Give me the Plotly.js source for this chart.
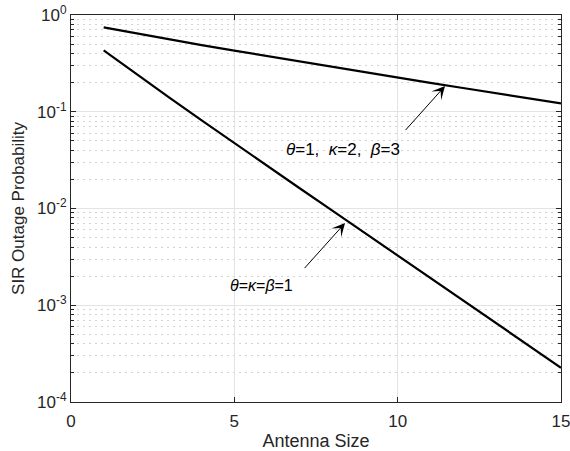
<!DOCTYPE html>
<html>
<head>
<meta charset="utf-8">
<script src="https://cdn.plot.ly/plotly-3.0.1.min.js"></script>
<style>html,body{margin:0;padding:0;background:#fff;}#chart{width:570px;height:451px;}</style>
</head>
<body>
<div id="chart"></div>
<script>
// Data
const antennaSize = [1,2,3,4,5,6,7,8,9,10,11,12,13,14,15];
const outageCase2 = [0.746,0.645,0.560,0.489,0.428,0.376,0.330,0.290,0.256,0.225,0.199,0.176,0.156,0.138,0.122]; // θ=1, κ=2, β=3
const outageCase1 = [0.431,0.245,0.1406,0.0813,0.0472,0.0277,0.0162,0.00951,0.00557,0.00327,0.00191,0.00112,0.000658,0.000386,0.000226]; // θ=κ=β=1
const yTickVals = [1e-4,1e-3,1e-2,1e-1,1];
const yTickText = ['10<sup>-4</sup>','10<sup>-3</sup>','10<sup>-2</sup>','10<sup>-1</sup>','10<sup>0</sup>'];
const xTickVals = [0,5,10,15];
const labelCase2 = '<i>θ</i>=1,&nbsp; <i>κ</i>=2,&nbsp; <i>β</i>=3';
const labelCase1 = '<i>θ</i>=<i>κ</i>=<i>β</i>=1';

// minor tick positions for log axis (2..9 per decade)
const minorVals = [];
for (let d = -4; d < 0; d++) for (let m = 2; m <= 9; m++) minorVals.push(m * Math.pow(10, d));

const axColor = '#262626';
const fam = 'Liberation Sans, Arial, sans-serif';

const traces = [
  {x: antennaSize, y: outageCase2, mode: 'lines', line: {color: '#000', width: 2.2}, showlegend: false},
  {x: antennaSize, y: outageCase1, mode: 'lines', line: {color: '#000', width: 2.2}, showlegend: false}
];

const layout = {
  width: 570, height: 451,
  margin: {l: 71, r: 9, t: 15, b: 49},
  paper_bgcolor: '#fff', plot_bgcolor: '#fff',
  font: {family: fam, size: 16, color: axColor},
  showlegend: false,
  xaxis: {
    range: [0, 15], tickmode: 'array', tickvals: xTickVals,
    ticks: 'inside', ticklen: 5, tickcolor: axColor, tickwidth: 1,
    showline: true, linecolor: axColor, linewidth: 1, mirror: 'allticks',
    showgrid: true, gridcolor: '#e3e3e3', gridwidth: 1, zeroline: false,
    tickfont: {family: fam, size: 17, color: axColor}, ticklabelstandoff: 4,
    ticklabeloverflow: 'allow',
    title: {text: 'Antenna Size', font: {family: fam, size: 18, color: axColor}, standoff: 6}
  },
  yaxis: {
    type: 'log', range: [-4, 0], tickmode: 'array', tickvals: yTickVals, ticktext: yTickText,
    ticks: 'inside', ticklen: 5, tickcolor: axColor, tickwidth: 1,
    showline: true, linecolor: axColor, linewidth: 1, mirror: 'allticks',
    showgrid: true, gridcolor: '#e3e3e3', gridwidth: 1, zeroline: false,
    tickfont: {family: fam, size: 17, color: axColor}, ticklabeloverflow: 'allow',
    minor: {tickmode: 'array', tickvals: minorVals, ticks: 'inside', ticklen: 3, tickcolor: axColor,
            showgrid: true, gridcolor: '#d2d2d2', griddash: '1.5px,4.5px', gridwidth: 1},
    title: {text: 'SIR Outage Probability', font: {family: fam, size: 17, color: axColor}, standoff: 8}
  },
  annotations: [
    {x: 11.45, y: -0.734, xref: 'x', yref: 'y', text: ' ', showarrow: true,
     ax: -43, ay: 48, arrowhead: 3, arrowsize: 2.2, arrowwidth: 1, arrowcolor: '#000'},
    {x: 8.39, y: -2.15, xref: 'x', yref: 'y', text: ' ', showarrow: true,
     ax: -44, ay: 49, arrowhead: 3, arrowsize: 2.2, arrowwidth: 1, arrowcolor: '#000'},
    {x: 8.33, y: -1.385, xref: 'x', yref: 'y', text: labelCase2, showarrow: false,
     font: {family: fam, size: 17, color: '#000'}},
    {x: 5.83, y: -2.80, xref: 'x', yref: 'y', text: labelCase1, showarrow: false,
     font: {family: fam, size: 16, color: '#000'}}
  ]
};

Plotly.newPlot('chart', traces, layout, {displayModeBar: false, staticPlot: true});
</script>
</body>
</html>
